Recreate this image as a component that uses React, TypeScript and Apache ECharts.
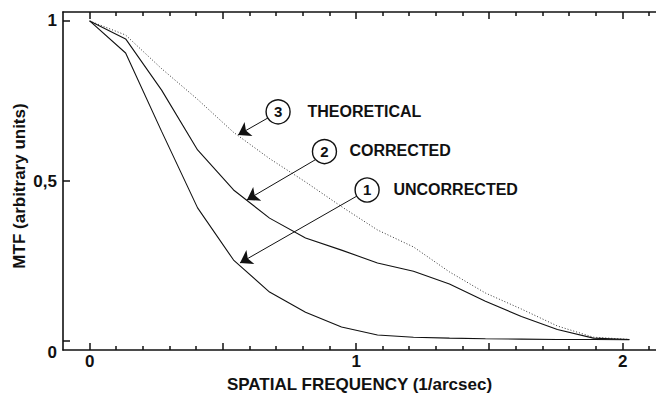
import React, { useEffect, useRef } from "react";
import * as echarts from "echarts";

// Spatial frequency (1/arcsec) at which the curves were sampled
const freq = [0, 0.135, 0.27, 0.405, 0.54, 0.675, 0.81, 0.945, 1.08, 1.215, 1.35, 1.485, 1.62, 1.755, 1.89, 2.025];
// MTF values (arbitrary units)
const uncorrected = [1.0, 0.9, 0.655, 0.416, 0.253, 0.153, 0.09, 0.044, 0.019, 0.012, 0.009, 0.007, 0.006, 0.005, 0.005, 0.004];
const corrected = [1.0, 0.944, 0.784, 0.597, 0.472, 0.384, 0.322, 0.284, 0.244, 0.218, 0.178, 0.124, 0.077, 0.036, 0.009, 0.005];
const theoretical = [1.0, 0.956, 0.851, 0.755, 0.652, 0.57, 0.497, 0.42, 0.347, 0.294, 0.216, 0.15, 0.1, 0.047, 0.012, 0.005];

// Axis ticks and labels
const xLabelValues = [0, 1, 2];
const xMajorTicks = [0, 0.5, 1, 1.5, 2];
const xMinorTicks = [0.1, 0.2, 0.3, 0.4, 0.6, 0.7, 0.8, 0.9, 1.1, 1.2, 1.3, 1.4, 1.6, 1.7, 1.8, 1.9, 2.1];
const yTickValues = [0, 0.5, 1];
const yTickLabels = ["0", "0,5", "1"];

// Annotations (numbered circles, names, arrows) in data coordinates
const annoNumbers = ["1", "2", "3"];
const annoNames = ["UNCORRECTED", "CORRECTED", "THEORETICAL"];
const annoCircle = [[1.041, 0.472], [0.881, 0.592], [0.707, 0.716]];
const annoText = [[1.138, 0.475], [0.973, 0.595], [0.8156, 0.716]];
const arrowFrom = [[1.003, 0.453], [0.846, 0.566], [0.669, 0.697]];
const arrowTo = [[0.564, 0.244], [0.59, 0.441], [0.557, 0.644]];

const FONT = "'Liberation Sans', Arial, Helvetica, sans-serif";
const INK = "#111";

const W = 656;
const H = 394;
const X_MIN = -0.1;
const X_MAX = 2.125;
const Y_MIN = -0.028;
const Y_MAX = 1.028;

const MINOR_LEN = 4;
const MAJOR_LEN = 7;
const TICK_W = 1.5;

function pairs(ys: number[]) {
  return freq.map((x, i) => [x, ys[i]]);
}

function annotation(i: number) {
  return {
    markLine: {
      silent: true,
      symbol: ["none", "arrow"],
      symbolSize: 12,
      label: { show: false },
      lineStyle: { color: INK, width: 1, type: "solid" },
      emphasis: { disabled: true },
      data: [[{ coord: arrowFrom[i] }, { coord: arrowTo[i] }]],
    },
    markPoint: {
      silent: true,
      data: [
        {
          coord: annoCircle[i],
          symbol: "circle",
          symbolSize: 24,
          itemStyle: { color: "#fff", borderColor: INK, borderWidth: 1.4 },
          label: {
            show: true,
            position: "inside",
            formatter: annoNumbers[i],
            color: INK,
            fontSize: 15,
            fontWeight: "bold",
            fontFamily: FONT,
          },
        },
        {
          coord: annoText[i],
          symbol: "circle",
          symbolSize: 1,
          itemStyle: { color: "rgba(0,0,0,0)" },
          label: {
            show: true,
            position: "right",
            distance: 0,
            formatter: annoNames[i],
            color: INK,
            fontSize: 16,
            fontWeight: "bold",
            fontFamily: FONT,
          },
        },
      ],
    },
  };
}

export default function App() {
  const ref = useRef<HTMLDivElement>(null);

  useEffect(() => {
    if (!ref.current) return;
    const chart = echarts.init(ref.current, undefined, { renderer: "svg" });

    const lineSt = { color: INK, width: 1.6 };
    const hidden = { show: false };

    const yTitle = {
      type: "text",
      x: 19,
      y: 186,
      rotation: Math.PI / 2,
      style: {
        text: "MTF (arbitrary units)",
        fill: INK,
        fontSize: 17,
        fontWeight: "bold",
        fontFamily: FONT,
        textAlign: "center",
        textVerticalAlign: "middle",
        align: "center",
        verticalAlign: "middle",
      },
    };

    chart.setOption({
      animation: false,
      backgroundColor: "#fff",
      grid: { left: 63, right: 0, top: 12, bottom: 44, containLabel: false, outerBoundsMode: "none" },
      xAxis: [
        {
          type: "value",
          min: X_MIN,
          max: X_MAX,
          position: "bottom",
          splitLine: hidden,
          axisLine: { show: true, onZero: false, lineStyle: lineSt },
          axisTick: hidden,
          axisLabel: {
            show: true,
            customValues: xLabelValues,
            margin: 3,
            fontSize: 17,
            fontWeight: "bold",
            color: INK,
            fontFamily: FONT,
            formatter: (v: number) => String(v),
          },
          name: "SPATIAL FREQUENCY (1/arcsec)",
          nameLocation: "middle",
          nameGap: 26,
          nameTextStyle: { fontSize: 17, fontWeight: "bold", color: INK, fontFamily: FONT },
        },
        {
          type: "value",
          min: X_MIN,
          max: X_MAX,
          position: "top",
          splitLine: hidden,
          axisLine: { show: true, onZero: false, lineStyle: lineSt },
          axisTick: hidden,
          axisLabel: hidden,
        },
      ],
      yAxis: {
        type: "value",
        min: Y_MIN,
        max: Y_MAX,
        position: "left",
        splitLine: hidden,
        axisLine: { show: true, onZero: false, lineStyle: lineSt },
        axisTick: hidden,
        axisLabel: {
          show: true,
          customValues: yTickValues,
          margin: 6,
          fontSize: 17,
          fontWeight: "bold",
          color: INK,
          fontFamily: FONT,
          formatter: (v: number) => {
            const idx = yTickValues.indexOf(v);
            const s = idx >= 0 ? yTickLabels[idx] : String(v);
            return v === 0 ? "{z|" + s + "}" : s;
          },
          rich: {
            z: { padding: [22, 0, 0, 0], fontSize: 17, fontWeight: "bold", color: INK, fontFamily: FONT },
          },
        },
      },
      graphic: [yTitle],
      series: [
        {
          type: "line",
          name: "Uncorrected",
          xAxisIndex: 0,
          data: pairs(uncorrected),
          showSymbol: false,
          symbol: "none",
          lineStyle: { color: INK, width: 1.1 },
          z: 3,
          ...annotation(0),
        },
        {
          type: "line",
          name: "Corrected",
          xAxisIndex: 0,
          data: pairs(corrected),
          showSymbol: false,
          symbol: "none",
          lineStyle: { color: INK, width: 1.1 },
          z: 3,
          ...annotation(1),
        },
        {
          type: "line",
          name: "Theoretical",
          xAxisIndex: 0,
          data: pairs(theoretical),
          showSymbol: false,
          symbol: "none",
          lineStyle: { color: "#333", width: 1, type: [1, 2] },
          z: 2,
          ...annotation(2),
        },
      ],
    });

    // Frame ticks (inward), positioned through the chart's own coordinate conversion
    const toPx = (x: number, y: number) => chart.convertToPixel({ gridIndex: 0 }, [x, y]) as number[];
    const ticks: any[] = [];
    const addX = (v: number, len: number) => {
      const b = toPx(v, Y_MIN);
      const t = toPx(v, Y_MAX);
      const cx = Math.round(b[0]);
      ticks.push({
        type: "rect",
        silent: true,
        z: 100,
        shape: { x: cx - TICK_W / 2, y: Math.round(b[1]) - len, width: TICK_W, height: len },
        style: { fill: INK },
      });
      ticks.push({
        type: "rect",
        silent: true,
        z: 100,
        shape: { x: cx - TICK_W / 2, y: Math.round(t[1]), width: TICK_W, height: len },
        style: { fill: INK },
      });
    };
    xMinorTicks.forEach((v) => addX(v, MINOR_LEN));
    xMajorTicks.forEach((v) => addX(v, MAJOR_LEN));
    yTickValues.forEach((v) => {
      const p = toPx(X_MIN, v);
      ticks.push({
        type: "rect",
        silent: true,
        z: 100,
        shape: { x: Math.round(p[0]), y: Math.round(p[1]) - TICK_W / 2, width: MAJOR_LEN, height: TICK_W },
        style: { fill: INK },
      });
    });

    chart.setOption({ graphic: [yTitle, ...ticks] });

    return () => chart.dispose();
  }, []);

  return (
    <div
      ref={ref}
      style={{ position: "fixed", left: 0, top: 0, width: W, height: H, background: "#fff" }}
    />
  );
}
